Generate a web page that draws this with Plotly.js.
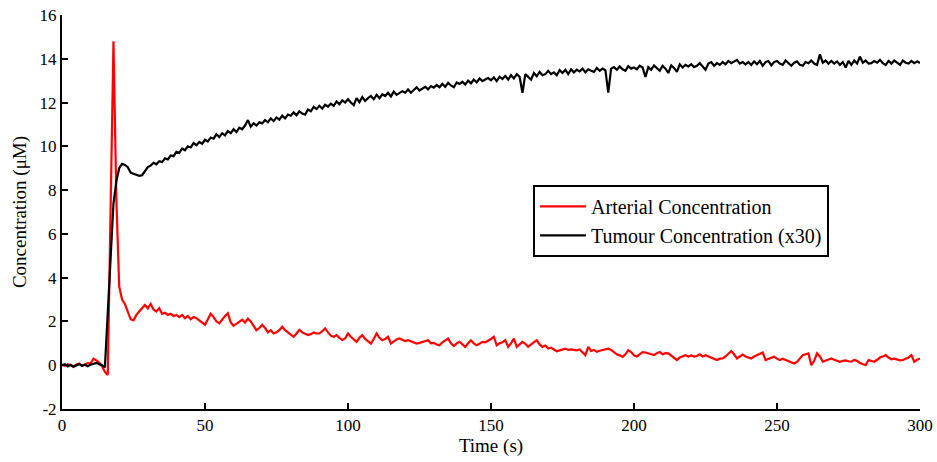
<!DOCTYPE html>
<html>
<head>
<meta charset="utf-8">
<script src="https://cdn.plot.ly/plotly-3.0.1.min.js"></script>
<style>html,body{margin:0;padding:0;background:#fff;}#chart{width:937px;height:462px;}</style>
</head>
<body>
<div id="chart"></div>
<script>
// Sampling: one reading per second from 0 s to 300 s
const T_START = 0;
const T_STEP = 1;

const seriesNames = ["Arterial Concentration", "Tumour Concentration (x30)"];

const arterial = [
  0.02, -0.03, 0.05, 0.0, -0.05, 0.03, 0.08, -0.02, 0.04, 0.1,
  0.08, 0.3, 0.22, 0.12, -0.05, -0.3, -0.45, 7.5, 14.8, 7.6,
  3.6, 3.0, 2.8, 2.45, 2.1, 2.05, 2.3, 2.45, 2.6, 2.75,
  2.6, 2.8, 2.55, 2.45, 2.6, 2.35, 2.4, 2.3, 2.35, 2.25,
  2.3, 2.2, 2.3, 2.15, 2.25, 2.1, 2.2, 2.15, 2.05, 1.95,
  1.85, 2.1, 2.35, 2.2, 2.0, 1.92, 2.1, 2.25, 2.37, 1.95,
  1.8, 1.9, 2.0, 2.08, 1.95, 2.13, 2.0, 1.8, 1.6, 1.7,
  1.84, 1.7, 1.5, 1.6, 1.45, 1.5, 1.6, 1.76, 1.6, 1.5,
  1.4, 1.3, 1.45, 1.62, 1.5, 1.45, 1.38, 1.42, 1.5, 1.45,
  1.45, 1.55, 1.68, 1.5, 1.35, 1.3, 1.38, 1.25, 1.15, 1.22,
  1.45, 1.3, 1.2, 1.07, 1.25, 1.37, 1.2, 1.1, 0.99, 1.2,
  1.45, 1.25, 1.14, 1.2, 1.3, 0.99, 1.1, 1.18, 1.22, 1.15,
  1.1, 1.14, 1.1, 1.05, 0.99, 1.02, 1.05, 1.1, 1.14, 1.0,
  1.02, 0.95, 0.91, 1.05, 1.15, 1.22, 1.0, 0.88, 1.0, 1.07,
  0.95, 0.84, 1.0, 1.14, 1.0, 0.91, 0.98, 1.07, 1.05, 1.12,
  1.2, 1.3, 0.91, 1.0, 1.05, 1.14, 0.84, 1.0, 1.22, 0.84,
  0.95, 1.07, 0.98, 0.84, 0.95, 1.05, 1.14, 0.95, 0.84, 0.9,
  0.76, 0.8, 0.7, 0.64, 0.68, 0.72, 0.76, 0.7, 0.72, 0.7,
  0.68, 0.72, 0.6, 0.46, 0.84, 0.65, 0.7, 0.61, 0.66, 0.7,
  0.72, 0.76, 0.7, 0.6, 0.5, 0.45, 0.38, 0.5, 0.68, 0.6,
  0.45, 0.4, 0.5, 0.6, 0.58, 0.55, 0.5, 0.46, 0.55, 0.6,
  0.5, 0.55, 0.54, 0.45, 0.35, 0.24, 0.35, 0.4, 0.46, 0.4,
  0.45, 0.39, 0.42, 0.5, 0.4, 0.46, 0.4, 0.35, 0.3, 0.24,
  0.3, 0.31, 0.4, 0.55, 0.65, 0.5, 0.31, 0.4, 0.49, 0.4,
  0.35, 0.31, 0.4, 0.45, 0.5, 0.58, 0.24, 0.3, 0.35, 0.39,
  0.3, 0.24, 0.3, 0.25, 0.18, 0.16, 0.08, 0.15, 0.3, 0.46,
  0.5, 0.54, 0.0, 0.2, 0.54, 0.4, 0.16, 0.2, 0.25, 0.31,
  0.25, 0.2, 0.16, 0.2, 0.22, 0.18, 0.16, 0.24, 0.2, 0.1,
  0.05, 0.0, 0.24, 0.2, 0.16, 0.25, 0.35, 0.4, 0.46, 0.35,
  0.27, 0.3, 0.25, 0.22, 0.24, 0.3, 0.35, 0.46, 0.16, 0.25,
  0.31
];

const tumour = [
  0.0, 0.05, -0.05, 0.02, -0.08, 0.0, 0.05, -0.03, 0.02, -0.05,
  0.03, 0.06, 0.1, 0.05, 0.0, -0.1, 2.4, 5.2, 7.4, 8.4,
  9.0, 9.2, 9.15, 9.05, 8.8, 8.75, 8.7, 8.65, 8.68, 8.85,
  9.05, 9.12, 9.25, 9.18, 9.32, 9.28, 9.45, 9.4, 9.58, 9.55,
  9.75, 9.7, 9.9, 9.82, 10.0, 9.95, 10.15, 10.05, 10.2, 10.12,
  10.3, 10.22, 10.4, 10.35, 10.55, 10.42, 10.6, 10.5, 10.7, 10.6,
  10.78, 10.65, 10.85, 10.78, 10.95, 11.2, 10.9, 11.05, 10.95, 11.1,
  11.05, 11.2, 11.1, 11.28, 11.15, 11.32, 11.22, 11.4, 11.28, 11.45,
  11.4, 11.55, 11.42, 11.6, 11.5, 11.45, 11.68, 11.6, 11.8, 11.7,
  11.85, 11.72, 11.9, 11.82, 11.95, 11.85, 12.05, 11.92, 12.1, 12.0,
  12.15, 12.0, 11.88, 12.2, 12.02, 12.25, 12.08, 12.2, 12.3, 12.15,
  12.35, 12.2, 12.38, 12.3, 12.45, 12.28, 12.5, 12.35, 12.42, 12.52,
  12.45, 12.6, 12.45, 12.58, 12.7, 12.55, 12.62, 12.72, 12.6, 12.75,
  12.68, 12.8, 12.7, 12.85, 12.72, 12.9, 12.78, 12.7, 12.92, 12.85,
  12.95, 12.82, 13.0, 12.88, 13.05, 12.92, 13.1, 12.98, 13.05, 13.12,
  13.02, 13.15, 12.98, 13.18, 13.08, 13.22, 13.05, 13.25, 13.1, 13.3,
  13.18, 12.45, 13.3, 13.15, 13.05, 13.35, 13.2, 13.4, 13.25, 13.3,
  13.45, 13.3, 13.38, 13.25, 13.48, 13.35, 13.5, 13.3, 13.52, 13.38,
  13.5, 13.42, 13.55, 13.38, 13.52, 13.45, 13.4, 13.58, 13.45, 13.55,
  13.48, 12.45, 13.55, 13.62, 13.5, 13.65, 13.52, 13.45, 13.66, 13.55,
  13.6, 13.52, 13.68, 13.6, 13.17, 13.62, 13.5, 13.7, 13.55, 13.45,
  13.68, 13.55, 13.35, 13.7, 13.58, 13.4, 13.75, 13.6, 13.72, 13.65,
  13.75, 13.62, 13.68, 13.8, 13.65, 13.5, 13.78, 13.85, 13.68, 13.8,
  13.72, 13.85, 13.75, 13.9, 13.8, 13.88, 13.95, 13.78, 13.85, 13.75,
  13.85, 13.72, 13.88, 13.75, 13.9, 13.68, 13.85, 13.9, 13.7, 13.85,
  13.9, 13.78, 13.72, 13.92, 13.8, 13.68, 13.82, 13.88, 13.72, 13.68,
  13.85, 13.8, 13.92, 13.78, 13.72, 14.2, 13.82, 13.92, 13.78, 13.9,
  13.78, 13.88, 13.72, 13.85, 13.6, 13.9, 13.72, 13.92, 13.78, 14.1,
  13.82, 13.92, 13.78, 13.8, 13.9, 13.82, 13.95, 13.8, 13.72, 13.9,
  13.78, 13.92, 13.82, 13.72, 13.92, 13.82, 13.78, 13.9, 13.8, 13.88,
  13.8
];

const xTicks = [0, 50, 100, 150, 200, 250, 300];
const yTicks = [-2, 0, 2, 4, 6, 8, 10, 12, 14, 16];

const time = arterial.map((_, i) => T_START + i * T_STEP);

const FONT = "Liberation Serif, Times New Roman, serif";

const traces = [
  {x: time, y: arterial, name: seriesNames[0], type: "scatter", mode: "lines",
   line: {color: "#ff0000", width: 2.2}},
  {x: time, y: tumour, name: seriesNames[1], type: "scatter", mode: "lines",
   line: {color: "#000000", width: 2.2}}
];

const layout = {
  width: 937, height: 462,
  margin: {l: 62, r: 17, t: 15, b: 53},
  paper_bgcolor: "#fff", plot_bgcolor: "#fff",
  font: {family: FONT, size: 17, color: "#000"},
  showlegend: true,
  legend: {
    x: 0.549, y: 0.569, xanchor: "left", yanchor: "top",
    bordercolor: "#000", borderwidth: 2, bgcolor: "#fff",
    font: {family: FONT, size: 20, color: "#000"},
    tracegroupgap: 0, itemwidth: 46
  },
  xaxis: {
    range: [0, 300], tickvals: xTicks, ticktext: xTicks.map(String),
    ticks: "inside", ticklen: 6, tickwidth: 2, tickcolor: "#000",
    showline: true, linecolor: "#000", linewidth: 2, mirror: false,
    showgrid: false, zeroline: false,
    tickfont: {family: FONT, size: 17, color: "#000"},
    title: {text: "Time (s)", font: {family: FONT, size: 19, color: "#000"}, standoff: 4}
  },
  yaxis: {
    range: [-2, 16], tickvals: yTicks, ticktext: yTicks.map(String),
    ticks: "inside", ticklen: 6, tickwidth: 2, tickcolor: "#000",
    showline: true, linecolor: "#000", linewidth: 2, mirror: false,
    showgrid: false, zeroline: false,
    tickfont: {family: FONT, size: 17, color: "#000"},
    title: {text: "Concentration (μM)", font: {family: FONT, size: 19, color: "#000"}, standoff: 8}
  }
};

Plotly.newPlot("chart", traces, layout, {displayModeBar: false, staticPlot: true});
</script>
</body>
</html>
